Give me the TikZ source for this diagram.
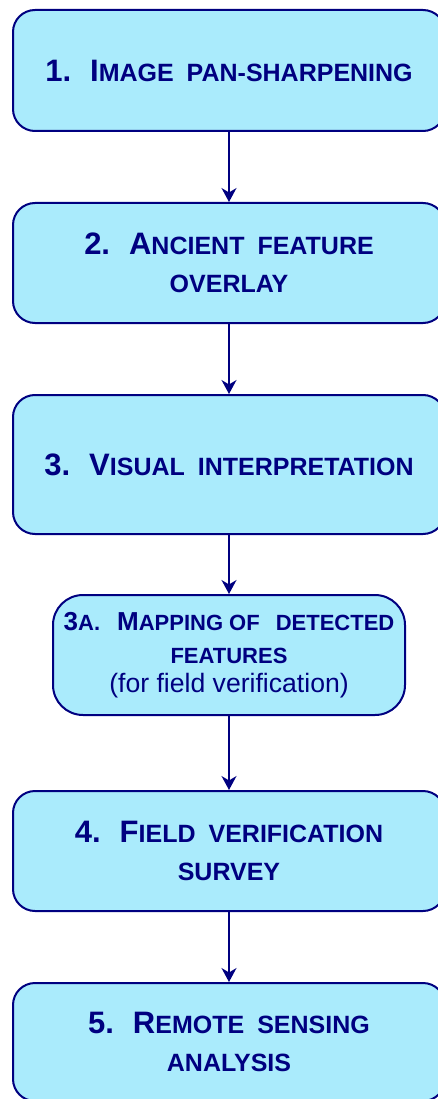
\documentclass[tikz,border=0pt]{standalone}
\usepackage{fontspec}
\setmainfont{Liberation Sans}
\usetikzlibrary{arrows.meta}
\definecolor{navyline}{RGB}{0,0,128}
\definecolor{boxfill}{RGB}{170,235,252}
\newcommand{\BG}[1]{{\fontsize{31}{38}\selectfont #1}}
\newcommand{\SM}[1]{{\fontsize{25}{38}\selectfont #1}}
\newcommand{\BGa}[1]{{\fontsize{26}{33}\selectfont #1}}
\newcommand{\SMa}[1]{{\fontsize{22}{33}\selectfont #1}}
\newcommand{\WG}{\hspace{13pt}}
\begin{document}
\begin{tikzpicture}[x=1pt,y=-1pt,
  stepbox/.style={draw=navyline, line width=2pt, fill=boxfill, rounded corners=22pt,
    text=navyline, font=\bfseries\fontsize{30}{38}\selectfont, align=center, inner sep=0pt,
    minimum width=432pt},
  subbox/.style={stepbox, rounded corners=30pt, font=\bfseries\fontsize{25}{33}\selectfont,
    minimum width=352pt, minimum height=120pt},
  flow/.style={draw=navyline, line width=1.6pt, -{Stealth[length=14pt,width=15pt,inset=4.5pt]}}]
\useasboundingbox (0,0) rectangle (438,1099);
\node[stepbox, minimum height=121pt] (s1) at (229,70.5)
  {\BG{1.}\hspace{19pt}\BG{I}\SM{MAGE}\WG\SM{PAN-SHARPENING}};
\node[stepbox, minimum height=120pt] (s2) at (229,263)
  {\BG{2.}\hspace{19pt}\BG{A}\SM{NCIENT}\WG\SM{FEATURE}\\ \SM{OVERLAY}};
\node[stepbox, minimum height=139pt] (s3) at (229,464.5)
  {\BG{3.}\hspace{19pt}\BG{V}\SM{ISUAL}\WG\SM{INTERPRETATION}};
\node[subbox] (s3a) at (229,655)
  {\BGa{3}\SMa{A.}\hspace{17pt}\BGa{M}\SMa{APPING OF}\hspace{16pt}\SMa{DETECTED}\\
   \SMa{FEATURES}\\[-4pt]
   {\mdseries\fontsize{26.6}{26}\selectfont (for field verification)}};
\node[stepbox, minimum height=120pt] (s4) at (229,851)
  {\BG{4.}\hspace{19pt}\BG{F}\SM{IELD}\WG\SM{VERIFICATION}\\ \SM{SURVEY}};
\node[stepbox, minimum height=118pt] (s5) at (229,1042)
  {\BG{5.}\hspace{19pt}\BG{R}\SM{EMOTE}\WG\SM{SENSING}\\ \SM{ANALYSIS}};
\draw[flow] (s1.south) -- (s2.north);
\draw[flow] (s2.south) -- (s3.north);
\draw[flow] (s3.south) -- (s3a.north);
\draw[flow] (s3a.south) -- (s4.north);
\draw[flow] (s4.south) -- (s5.north);
\end{tikzpicture}
\end{document}
